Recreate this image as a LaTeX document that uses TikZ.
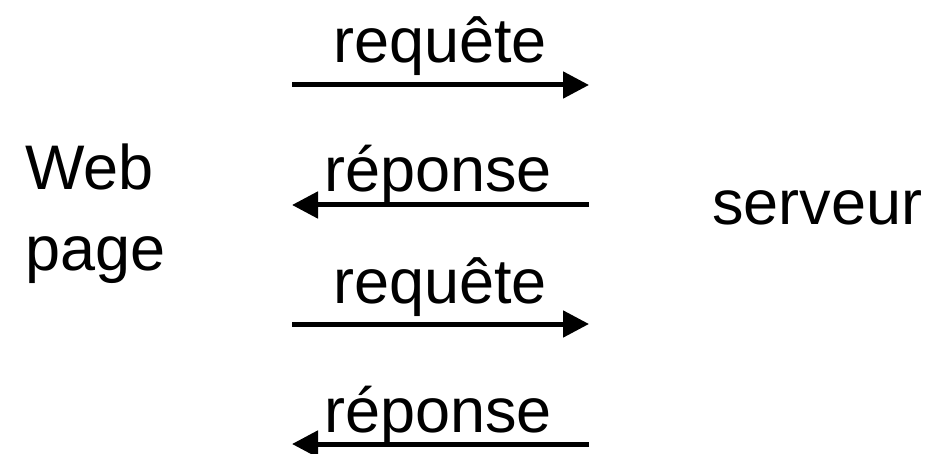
\documentclass[tikz,border=0pt]{standalone}
\usepackage{fontspec}
\setmainfont{Liberation Sans}
\usetikzlibrary{arrows.meta}
\tikzset{
  lbl/.style={inner sep=0pt, anchor=base, font=\fontsize{63}{76}\selectfont},
  msg/.style={line width=5pt, -{Triangle[length=26pt,width=26pt]}}
}
\begin{document}
\begin{tikzpicture}[x=1pt,y=-1pt]
  \useasboundingbox (0,0) rectangle (944,454);
  % client and server
  \node[lbl, anchor=base west] (web) at (25,190) {Web};
  \node[lbl, anchor=base west] (page) at (25,270) {page};
  \node[lbl, anchor=base west] (srv) at (712,225) {serveur};
  % message end points
  \coordinate (a1) at (292,85);  \coordinate (b1) at (589,85);
  \coordinate (a2) at (292,205); \coordinate (b2) at (589,205);
  \coordinate (a3) at (292,324); \coordinate (b3) at (589,324);
  \coordinate (a4) at (292,444); \coordinate (b4) at (589,444);
  % message labels
  \node[lbl] (q1) at (440,63) {requête};
  \node[lbl] (p1) at (438,192) {réponse};
  \node[lbl] (q2) at (440,303) {requête};
  \node[lbl] (p2) at (438,432) {réponse};
  % messages
  \draw[msg] (a1) -- (b1);
  \draw[msg] (b2) -- (a2);
  \draw[msg] (a3) -- (b3);
  \draw[msg] (b4) -- (a4);
\end{tikzpicture}
\end{document}
